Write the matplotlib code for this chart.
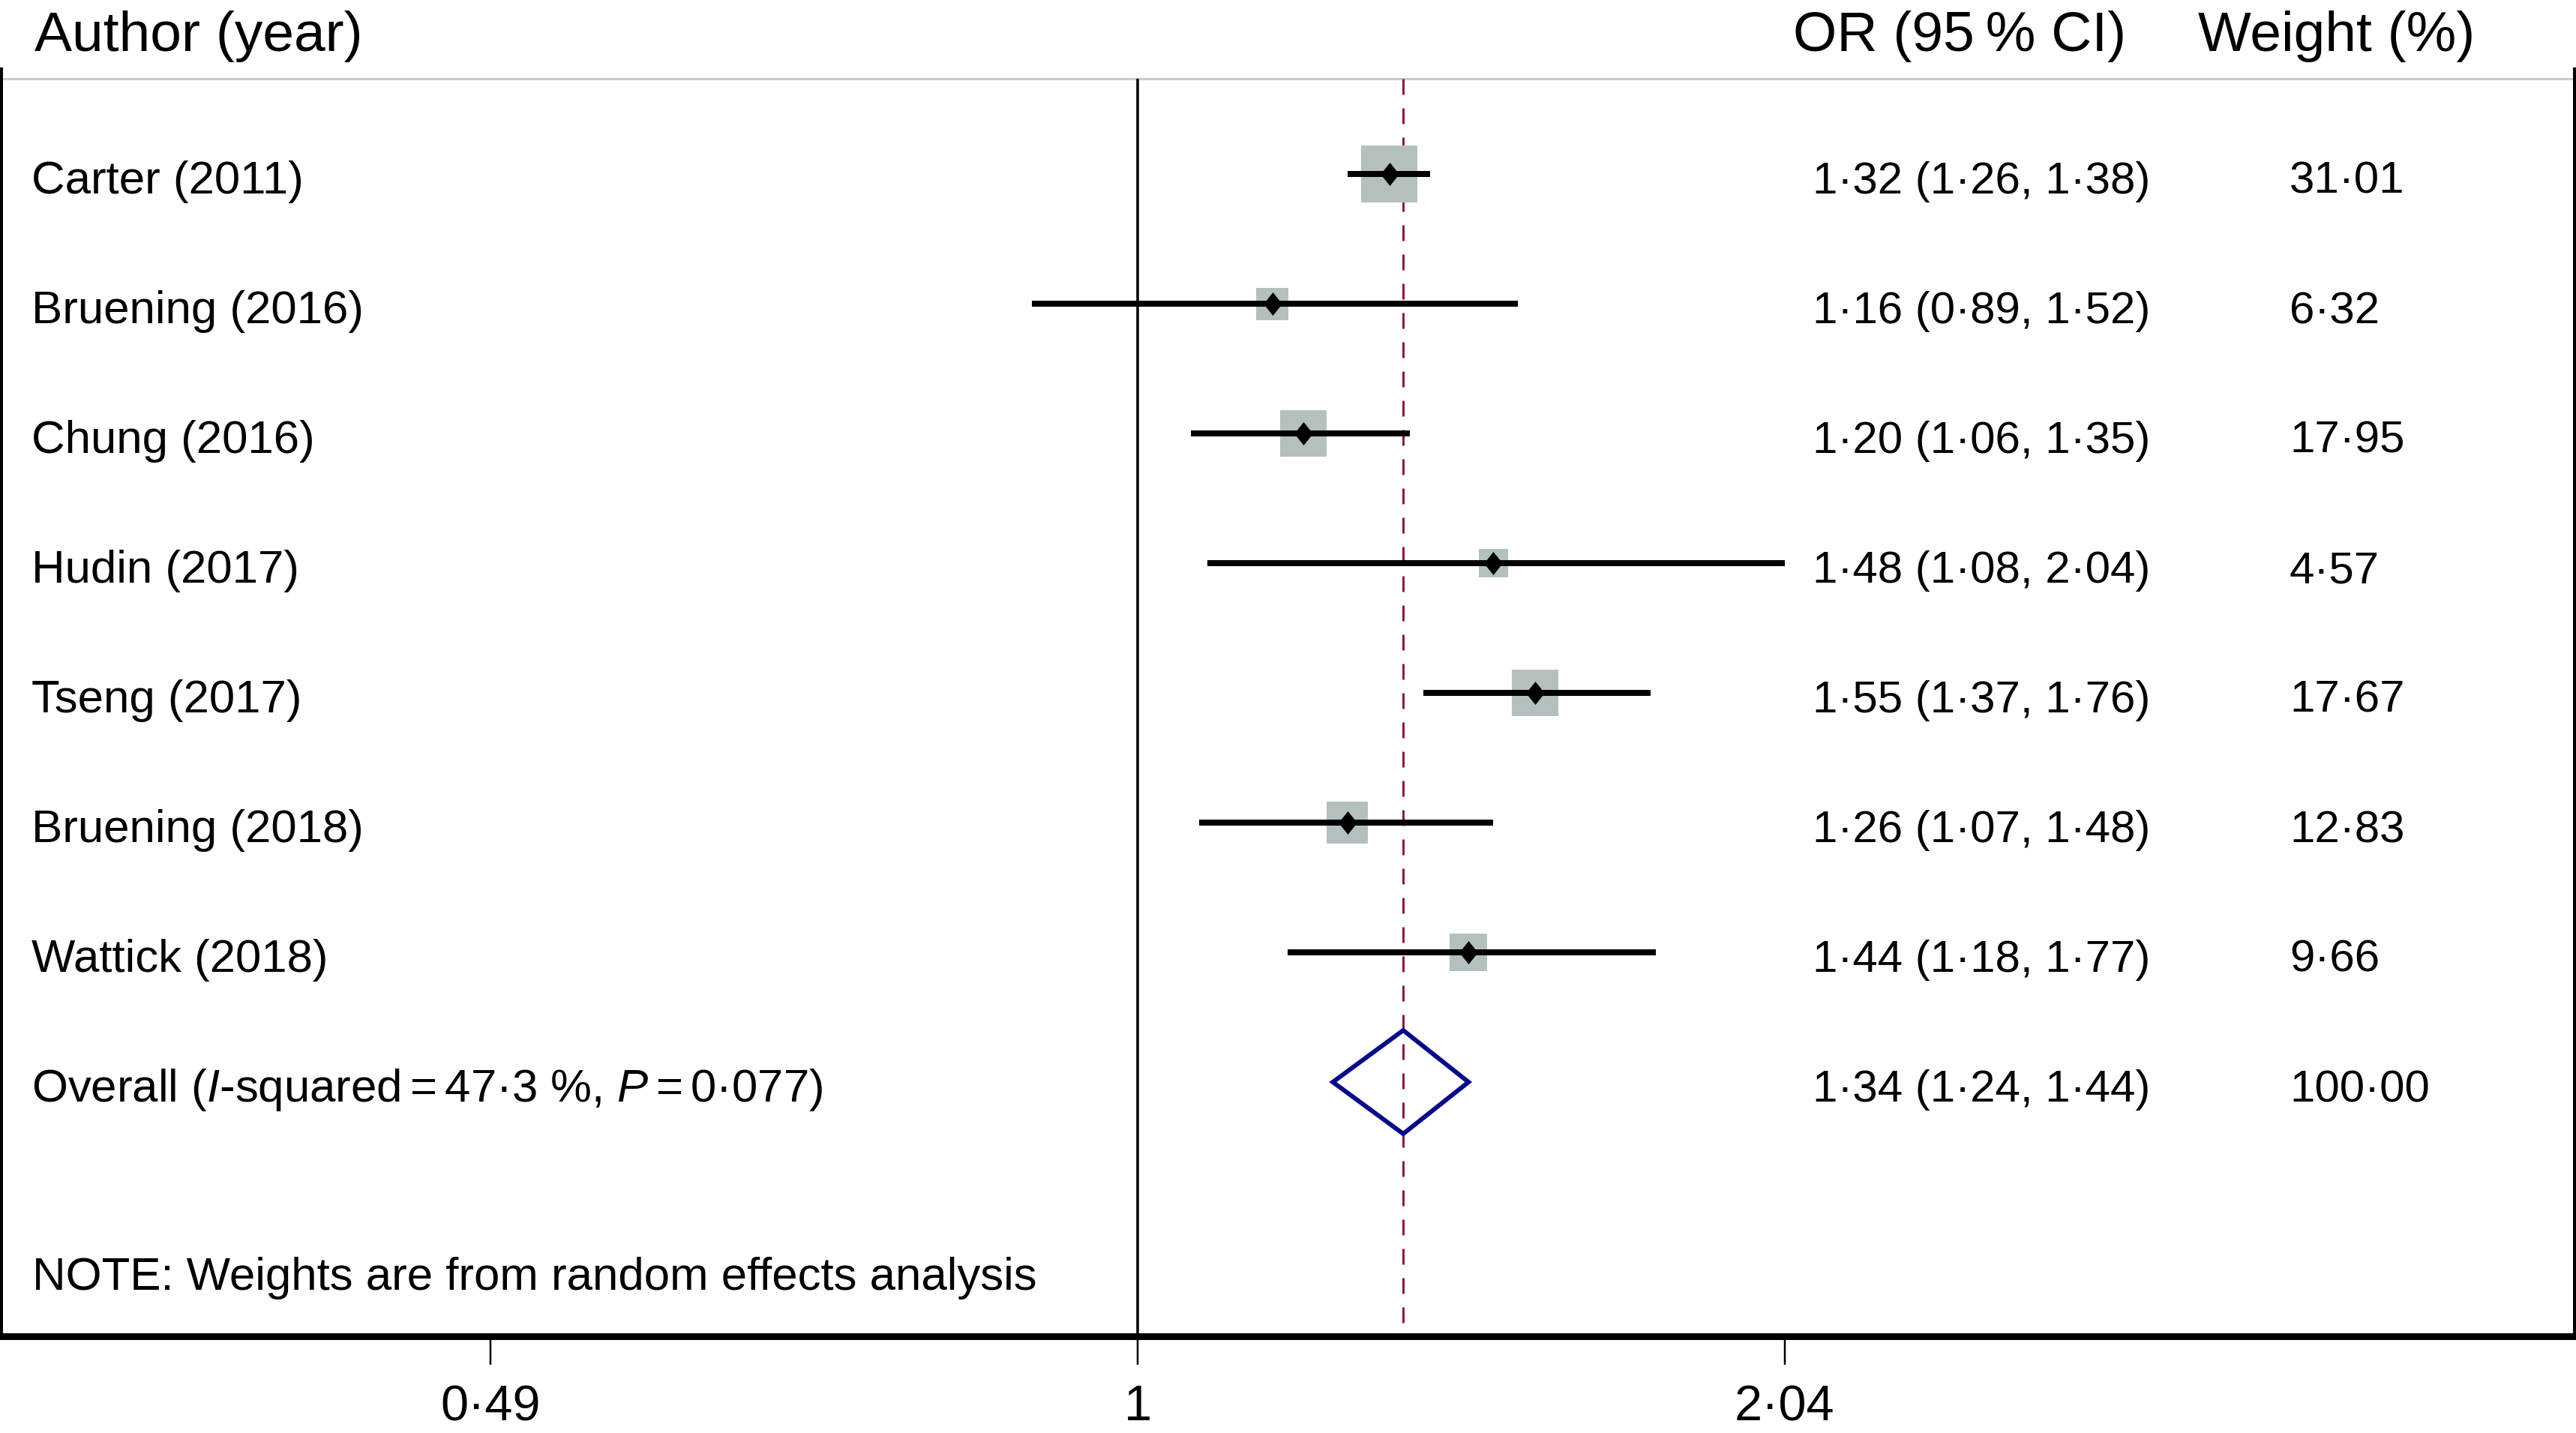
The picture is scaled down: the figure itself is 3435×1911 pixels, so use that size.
import numpy as np
import matplotlib
matplotlib.use("Agg")
import matplotlib.pyplot as plt
from matplotlib.transforms import blended_transform_factory
from matplotlib.patches import Polygon

plt.rcParams['font.family'] = ['Liberation Sans', 'DejaVu Sans']
plt.rcParams['mathtext.fontset'] = 'custom'
plt.rcParams['mathtext.rm'] = 'Liberation Sans'
plt.rcParams['mathtext.it'] = 'Liberation Sans:italic'

# ---------------- data ----------------
studies = ["Carter (2011)", "Bruening (2016)", "Chung (2016)", "Hudin (2017)",
           "Tseng (2017)", "Bruening (2018)", "Wattick (2018)"]
or_est = [1.32, 1.16, 1.20, 1.48, 1.55, 1.26, 1.44]
ci_low = [1.26, 0.89, 1.06, 1.08, 1.37, 1.07, 1.18]
ci_high = [1.38, 1.52, 1.35, 2.04, 1.76, 1.48, 1.77]
weights = [31.01, 6.32, 17.95, 4.57, 17.67, 12.83, 9.66]

overall_label = r"Overall ($\mathit{I}$-squared$=$47·3 %, $\mathit{P}=$0·077)"
overall_est = 1.34
overall_low = 1.24
overall_high = 1.44
overall_weight = 100.00

tick_values = [0.49, 1, 2.04]
tick_labels = ["0·49", "1", "2·04"]

note_text = "NOTE: Weights are from random effects analysis"
header_left = "Author (year)"
header_or = "OR (95\u2009% CI)"
header_w = "Weight (%)"


def fmt(v):
    return f"{v:.2f}".replace(".", "·")


# ---------------- figure ----------------
W, H, DPI = 3435, 1911, 200
fig = plt.figure(figsize=(W / DPI, H / DPI), dpi=DPI)
fig.patch.set_facecolor("white")

def fx(px):
    return px / W

def fy(py):
    return 1 - py / H

ax_left, ax_right = 2, 3433
ax_top, ax_bot = 92, 1782
ax = fig.add_axes([fx(ax_left), fy(ax_bot), fx(ax_right - ax_left), (ax_bot - ax_top) / H])

row0_px, row_step = 232, 173
ytop = (ax_top - row0_px) / row_step
ybot = (ax_bot - row0_px) / row_step

ax.set_xscale("log")
ax.set_xlim(0.2859, 4.872)
ax.set_ylim(ybot, ytop)

header_y = (105 - row0_px) / row_step

px2pt = 72 / DPI

# header gray line
ax.plot([0.2859, 4.872], [header_y, header_y], color="#c4ccc9", lw=3 * px2pt,
        clip_on=False, zorder=1, solid_capstyle="butt")
# null line
ax.plot([1, 1], [header_y, ybot], color="black", lw=3.5 * px2pt, zorder=2,
        solid_capstyle="butt")
# overall dashed line
ax.plot([overall_est, overall_est], [header_y, ybot], color="#8b1a3e", lw=3 * px2pt,
        dashes=(7, 6), zorder=2)

n = len(studies)
ys = np.arange(n)
sides_px = [43 * (w / 6.32) ** 0.35 for w in weights]

# weight boxes
ax.scatter(or_est, ys, s=[(s * px2pt) ** 2 for s in sides_px], marker="s",
           color="#b4c0bf", linewidths=0, zorder=3)
# CI lines
for y, lo, hi in zip(ys, ci_low, ci_high):
    ax.plot([lo, hi], [y, y], color="black", lw=8 * px2pt, zorder=4,
            solid_capstyle="butt")
# point estimates
pt_marker = [(0, 1.25), (1, 0), (0, -1.25), (-1, 0), (0, 1.25)]
ax.plot(or_est, ys, linestyle="none", marker=pt_marker, markersize=31 * px2pt,
        color="black", markeredgewidth=0, zorder=5)

# overall diamond
oy = n
half_h = 69 / row_step
diamond = Polygon([(overall_low, oy), (overall_est, oy - half_h),
                   (overall_high, oy), (overall_est, oy + half_h)],
                  closed=True, fill=False, edgecolor="#0a0a88",
                  linewidth=6 * px2pt, zorder=5, joinstyle="miter")
ax.add_patch(diamond)

# ---------------- text ----------------
trans = blended_transform_factory(fig.transFigure, ax.transData)
row_fs = 21.6
base_off = 26 / row_step
x_label, x_or, x_w = fx(42), fx(2417), fx(3053)

for i, name in enumerate(studies):
    y = i + base_off
    ax.text(x_label, y, name, transform=trans, fontsize=row_fs * 1.03, va="baseline", ha="left")
    ax.text(x_or, y, f"{fmt(or_est[i])} ({fmt(ci_low[i])}, {fmt(ci_high[i])})",
            transform=trans, fontsize=row_fs, va="baseline", ha="left")
    ax.text(x_w, y, fmt(weights[i]), transform=trans, fontsize=row_fs,
            va="baseline", ha="left")

y = n + base_off
ax.text(x_label, y, overall_label, transform=trans, fontsize=row_fs * 1.03, va="baseline", ha="left")
ax.text(x_or, y, f"{fmt(overall_est)} ({fmt(overall_low)}, {fmt(overall_high)})",
        transform=trans, fontsize=row_fs, va="baseline", ha="left")
ax.text(x_w, y, fmt(overall_weight), transform=trans, fontsize=row_fs,
        va="baseline", ha="left")

note_y = (1720 - row0_px) / row_step
ax.text(fx(43), note_y, note_text, transform=trans, fontsize=row_fs * 1.03, va="baseline", ha="left")

hdr_fs = 27
fig.text(fx(46), fy(68), header_left, fontsize=hdr_fs, va="baseline", ha="left")
fig.text(fx(2391), fy(68), header_or, fontsize=hdr_fs, va="baseline", ha="left")
fig.text(fx(2931), fy(68), header_w, fontsize=hdr_fs, va="baseline", ha="left")

# ---------------- axes styling ----------------
ax.spines["top"].set_visible(False)
ax.spines["left"].set_linewidth(4 * px2pt)
ax.spines["right"].set_linewidth(4 * px2pt)
ax.spines["bottom"].set_linewidth(9 * px2pt)
for s in ax.spines.values():
    s.set_color("black")

ax.set_yticks([])
ax.xaxis.set_major_locator(matplotlib.ticker.FixedLocator(tick_values))
ax.xaxis.set_minor_locator(matplotlib.ticker.NullLocator())
ax.set_xticklabels(tick_labels)
ax.tick_params(axis="x", direction="out", length=38 * px2pt, width=2.5 * px2pt,
               labelsize=24, pad=9.5, colors="black")

fig.savefig("out.png", dpi=DPI, facecolor="white")
